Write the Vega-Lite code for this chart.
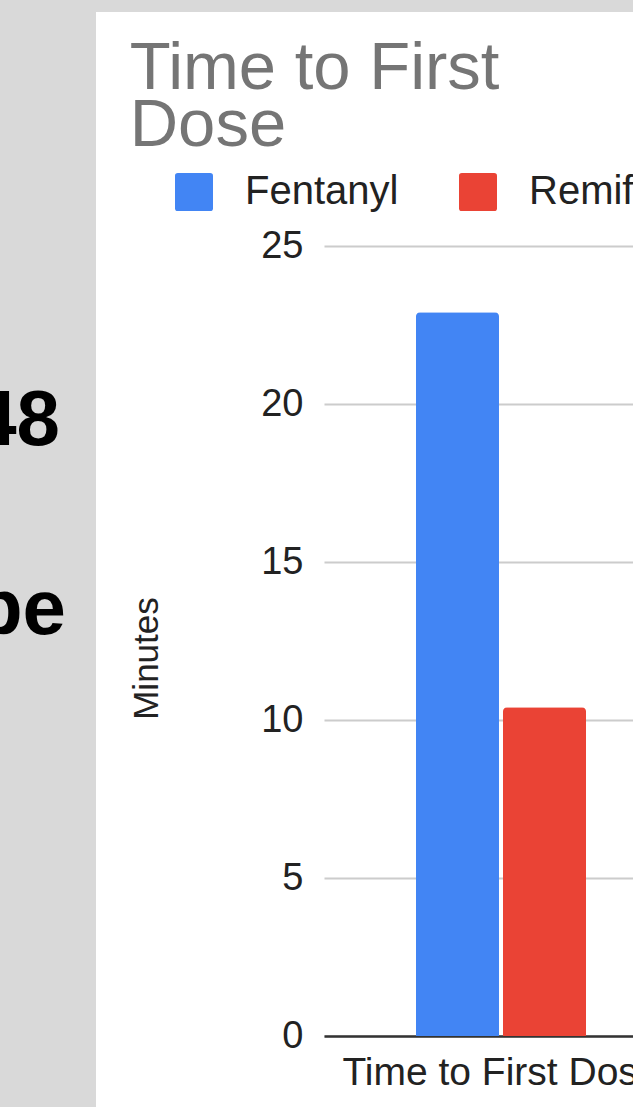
{
  "$schema": "https://vega.github.io/schema/vega-lite/v6.json",
  "padding": 0,
  "background": "#ffffff",
  "config": {"view": {"stroke": null}, "concat": {"spacing": 0}, "font": "Liberation Sans"},
  "spacing": 0,
  "vconcat": [
    {
      "width": 800,
      "height": 12,
      "view": {"fill": "#d9d9d9", "stroke": null},
      "data": {"values": []},
      "mark": "point",
      "encoding": {}
    },
    {
      "spacing": 33,
      "hconcat": [
        {
          "width": 96,
          "height": 1095,
          "view": {"fill": "#d9d9d9", "stroke": null},
          "layer": [
            {
              "data": {"values": [{"line": "a", "text": "48"}]},
              "mark": {"type": "text", "align": "right", "baseline": "alphabetic", "dx": 12, "font": "Liberation Sans", "fontSize": 78, "fontWeight": "bold", "color": "#000000", "clip": true},
              "encoding": {
                "y": {"field": "line", "type": "nominal", "scale": {"type": "point", "domain": ["l1", "l2", "a", "b", "l5", "l6"], "padding": 0.397, "align": 0.367}, "axis": null},
                "text": {"field": "text"}
              }
            },
            {
              "data": {"values": [{"line": "b", "text": "pe"}]},
              "mark": {"type": "text", "align": "right", "baseline": "alphabetic", "dx": 18, "font": "Liberation Sans", "fontSize": 78, "fontWeight": "bold", "color": "#000000", "clip": true},
              "encoding": {
                "y": {"field": "line", "type": "nominal", "axis": null},
                "text": {"field": "text"}
              }
            }
          ]
        },
        {
          "spacing": 22,
          "vconcat": [
            {
              "width": 10,
              "height": 1,
              "data": {"values": []},
              "mark": "point",
              "encoding": {}
            },
            {
              "width": 354,
              "height": 790,
              "title": {"text": ["Time to First", "Dose"], "anchor": "start", "frame": "bounds", "font": "Liberation Sans", "fontSize": 67, "fontWeight": "normal", "color": "#757575", "lineHeight": 57, "offset": 67},
              "data": {"values": [
                {"metric": "Time to First Dose", "drug": "Fentanyl", "minutes": 22.9},
                {"metric": "Time to First Dose", "drug": "Remifentanil", "minutes": 10.4}
              ]},
              "mark": {"type": "bar", "cornerRadiusTopLeft": 4, "cornerRadiusTopRight": 4},
              "encoding": {
                "x": {
                  "field": "metric", "type": "nominal",
                  "scale": {"paddingInner": 0, "paddingOuter": 0.541},
                  "axis": {"title": null, "labelAngle": 0, "domain": true, "domainColor": "#333333", "domainWidth": 2.5, "ticks": false, "grid": false, "labelFont": "Liberation Sans", "labelFontSize": 39, "labelColor": "#222222", "labelPadding": 17, "labelLimit": 1000, "labelOverlap": false}
                },
                "xOffset": {"field": "drug", "type": "nominal", "scale": {"paddingInner": 0.046, "paddingOuter": 0}},
                "y": {
                  "field": "minutes", "type": "quantitative",
                  "scale": {"domain": [0, 25]},
                  "axis": {"title": "Minutes", "values": [0, 5, 10, 15, 20, 25], "grid": true, "gridColor": "#cccccc", "gridWidth": 2, "domain": false, "ticks": false, "labelFont": "Liberation Sans", "labelFontSize": 38, "labelColor": "#222222", "labelPadding": 21, "titleFont": "Liberation Sans", "titleFontSize": 35, "titleFontWeight": "normal", "titleColor": "#222222", "titlePadding": 96, "titleY": 412}
                },
                "color": {
                  "field": "drug", "type": "nominal",
                  "scale": {"domain": ["Fentanyl", "Remifentanil"], "range": ["#4285F4", "#EA4335"]},
                  "legend": {"title": null, "orient": "none", "legendX": 174, "legendY": 172, "direction": "horizontal", "symbolType": "M-0.85,-1H0.85Q1,-1 1,-0.85V0.85Q1,1 0.85,1H-0.85Q-1,1 -1,0.85V-0.85Q-1,-1 -0.85,-1Z", "symbolSize": 1444, "symbolStrokeWidth": 0, "symbolOpacity": 1, "labelFont": "Liberation Sans", "labelFontSize": 40, "labelColor": "#222222", "labelOffset": 31, "columnPadding": 59, "padding": 0, "labelLimit": 1000}
                }
              }
            }
          ]
        }
      ]
    }
  ]
}
